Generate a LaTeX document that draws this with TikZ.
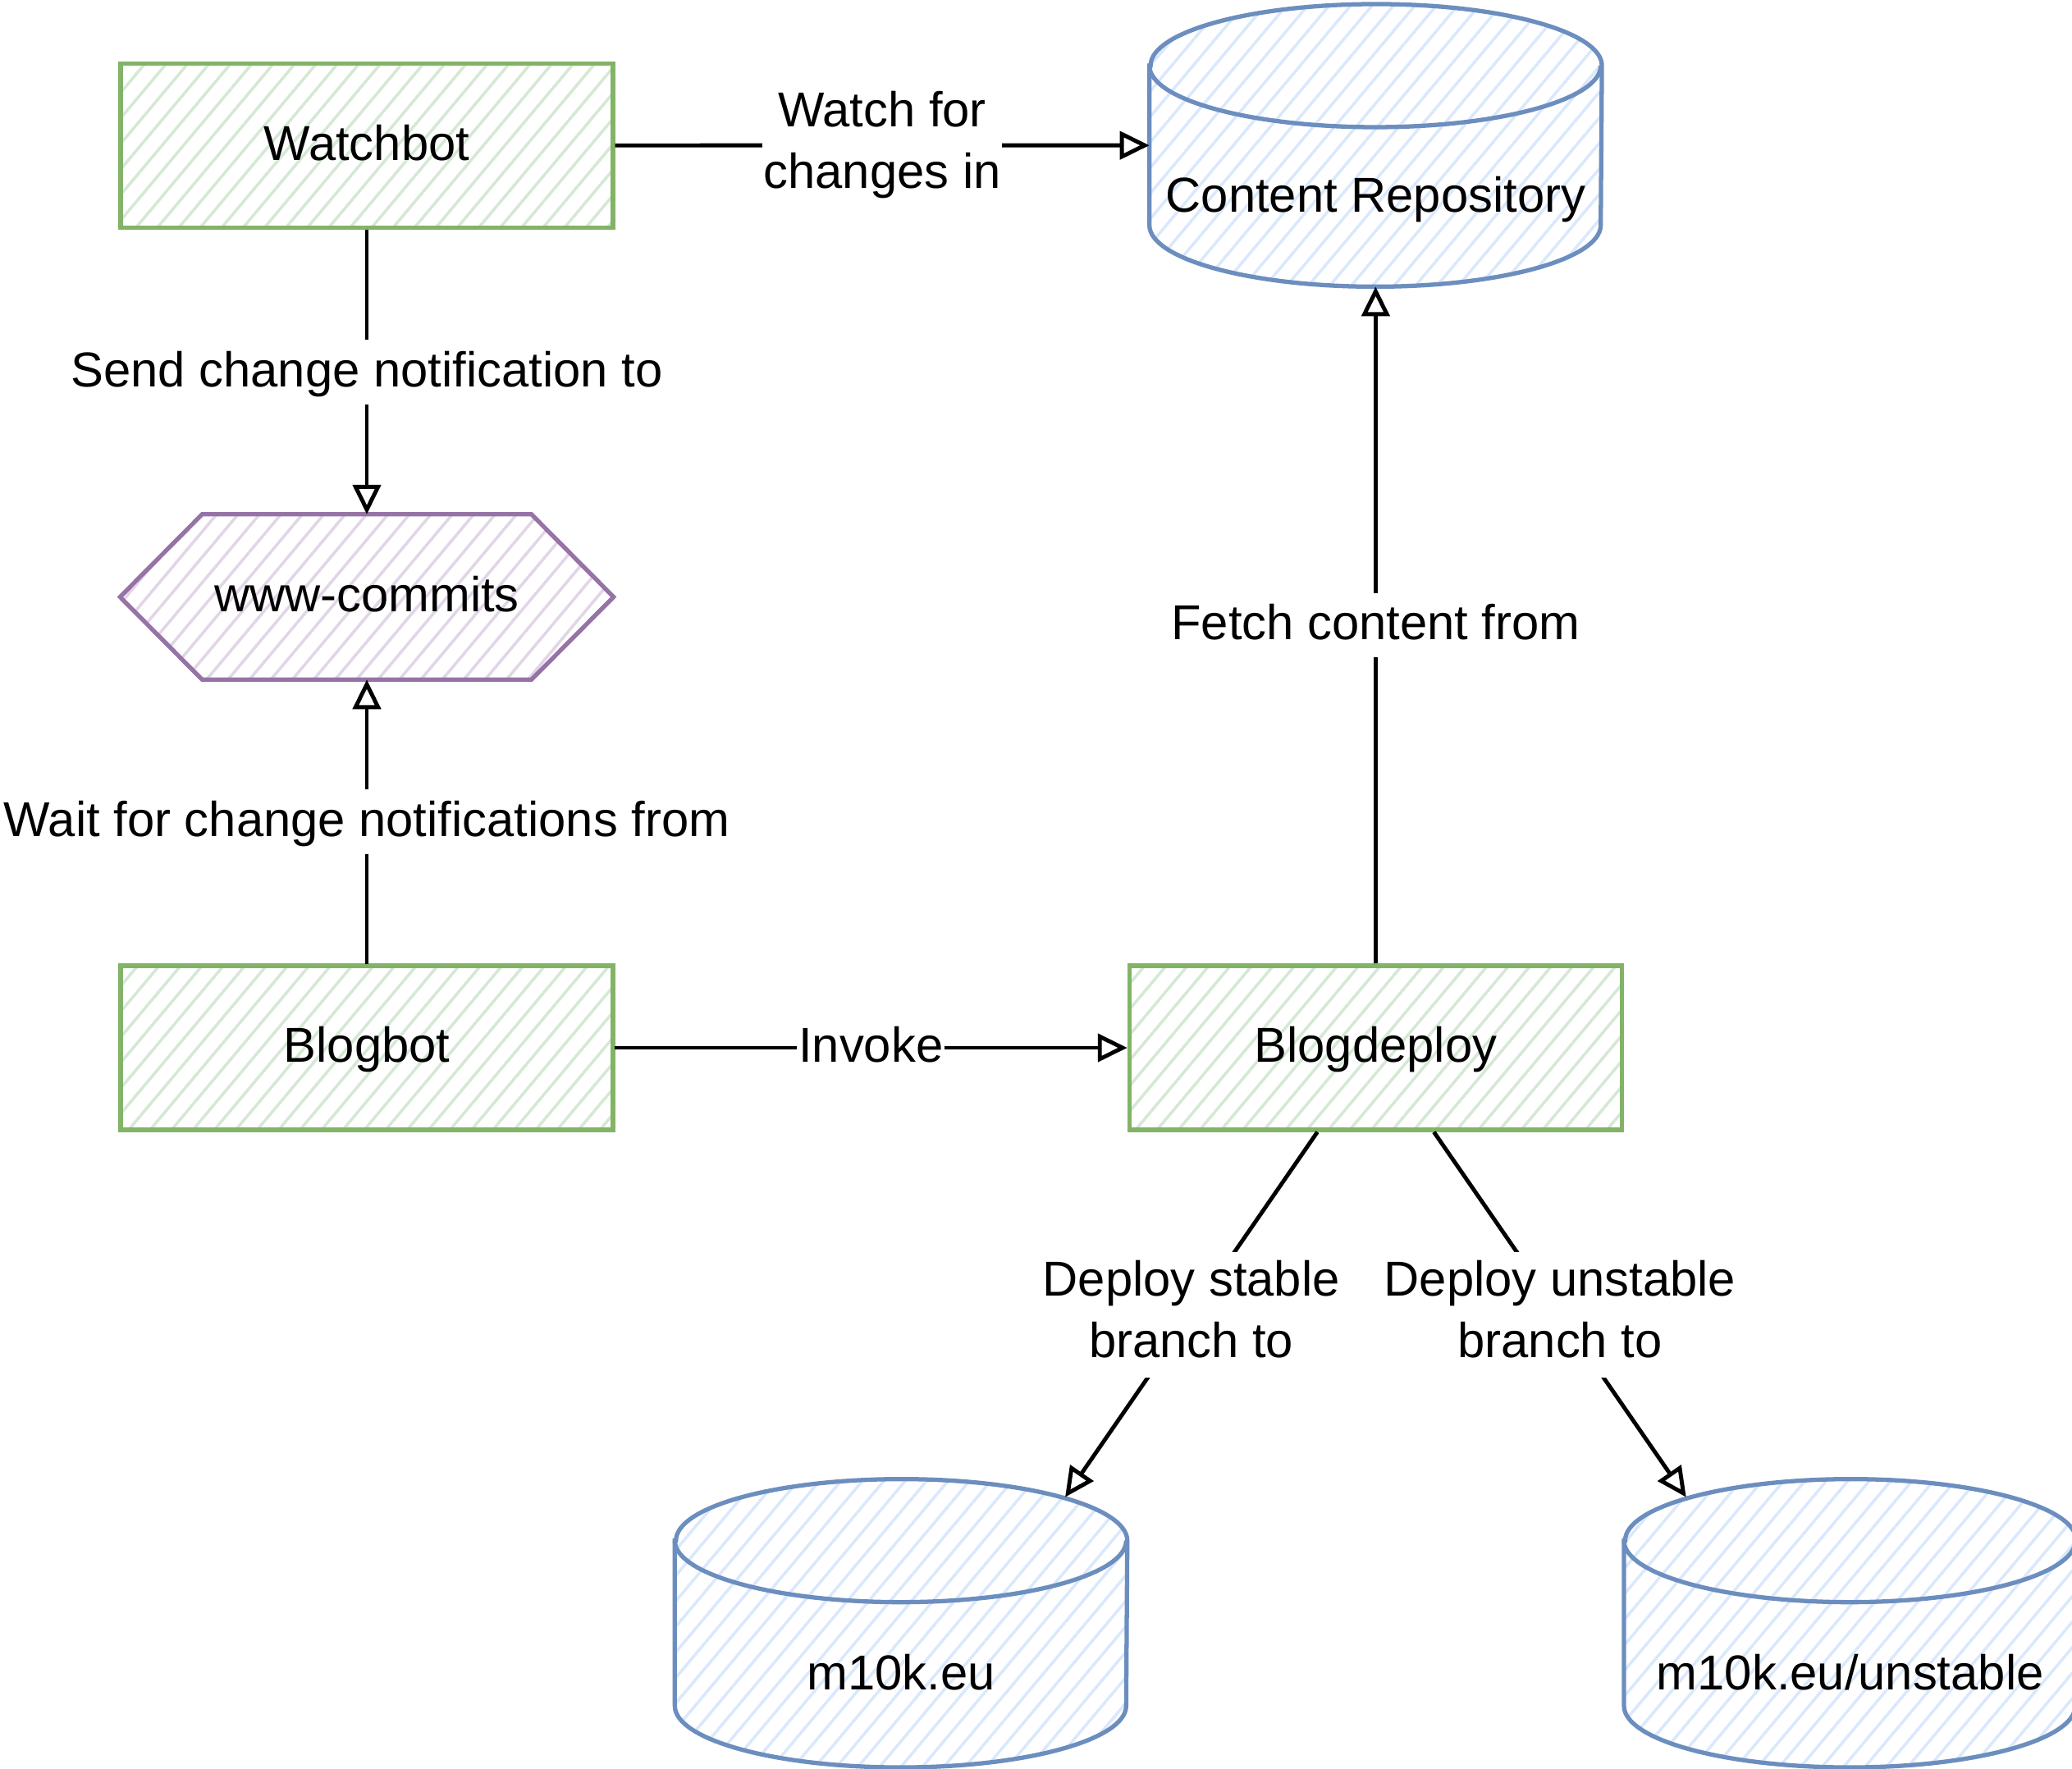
\documentclass[tikz,border=0pt]{standalone}
\usepackage{fontspec}
\setmainfont{Liberation Sans}
\usepackage{tikz}
\usetikzlibrary{positioning,arrows.meta,patterns.meta,backgrounds}

\definecolor{procline}{HTML}{82B366}
\definecolor{procfill}{HTML}{D5E8D4}
\definecolor{storeline}{HTML}{6C8EBF}
\definecolor{storefill}{HTML}{DAE8FC}
\definecolor{queueline}{HTML}{9673A6}
\definecolor{queuefill}{HTML}{E1D5E7}

\begin{document}
\begin{tikzpicture}[
    node distance=3.47cm,
    every node/.style={font=\fontsize{17}{21.3}\selectfont},
    hatch/.style={pattern={Lines[angle=50,distance=0.2cm,line width=1pt]}, pattern color=#1},
    box/.style={rectangle, draw=procline, line width=1.5pt, hatch=procfill, minimum width=6cm, minimum height=2cm, text height=12.2pt, text depth=2pt},
    queue/.style={rectangle, minimum width=6cm, minimum height=2cm, text height=12.2pt, text depth=2pt},
    store/.style={rectangle, minimum width=5.5cm, minimum height=3.5cm, text height=1.7cm, text depth=0.07cm},
    storeshape/.style={draw=storeline, line width=1.5pt},
    link/.style={-{Triangle[open,length=3.6mm,width=3.4mm]}, line width=1.4pt},
    tag/.style={fill=white, inner xsep=0.5pt, inner ysep=1pt, text height=15.3pt, text depth=5.1pt},
    tagtwo/.style={fill=white, inner xsep=0.5pt, inner ysep=0.5pt, align=center}
]
\useasboundingbox (0,0) rectangle (25.25,-21.55);

\node[box] (blogbot) at (4.47,-12.77) {Blogbot};
\node[queue, above=of blogbot] (commits) {www-commits};
\node[box, above=of commits] (watch) {Watchbot};
\node[box, right=6.25cm of blogbot] (deploy) {Blogdeploy};
\node[store, minimum height=3.43cm, above=8.25cm of deploy] (repo) {Content Repository};
\node[store, below left=4.23cm and 0cm of deploy] (stable) {m10k.eu};
\node[store, below right=4.23cm and 0cm of deploy] (unstable) {m10k.eu/unstable};

% cylinders and the queue shape behind their texts
\begin{scope}[on background layer]
  \foreach \c in {repo,stable,unstable} {
    \draw[storeshape, hatch=storefill] ([yshift=-0.75cm]\c.north west) -- ([yshift=0.75cm]\c.south west)
      arc[start angle=180, end angle=360, x radius=2.75cm, y radius=0.75cm]
      -- ([yshift=-0.75cm]\c.north east)
      arc[start angle=0, end angle=180, x radius=2.75cm, y radius=0.75cm] -- cycle;
    \draw[storeshape] ([yshift=-0.75cm]\c.north west)
      arc[start angle=180, end angle=360, x radius=2.75cm, y radius=0.75cm];
  }
  \draw[draw=queueline, line width=1.5pt, hatch=queuefill] (commits.west) -- ([xshift=1cm]commits.north west)
    -- ([xshift=-1cm]commits.north east) -- (commits.east)
    -- ([xshift=-1cm]commits.south east) -- ([xshift=1cm]commits.south west) -- cycle;
\end{scope}

\draw[link] (watch.east) -- node[tagtwo] {\strut Watch for\\changes in\strut} (repo.west);
\draw[link] (watch.south) -- node[tag] {Send change notification to} (commits.north);
\draw[link] (blogbot.north) -- node[tag] {Wait for change notifications from} (commits.south);
\draw[link] (blogbot.east) -- node[tag] {Invoke} (deploy.west);
\draw[link] (deploy.north) -- node[tag] {Fetch content from} (repo.south);
\draw[link] ([xshift=-0.71cm]deploy.south) -- node[tagtwo] {\strut Deploy stable\\branch to\strut} ([shift={(2cm,-0.22cm)}]stable.north);
\draw[link] ([xshift=0.71cm]deploy.south) -- node[tagtwo] {\strut Deploy unstable\\branch to\strut} ([shift={(-2cm,-0.22cm)}]unstable.north);

\end{tikzpicture}
\end{document}
